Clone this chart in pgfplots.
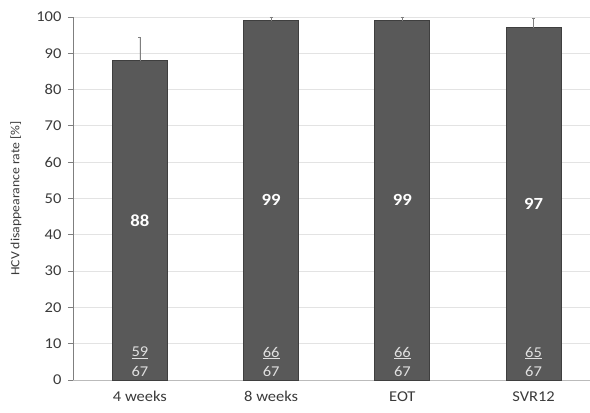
\documentclass[border=0pt]{standalone}
\usepackage{fontspec}
\setmainfont{Carlito}[FakeStretch=1.1]
\usepackage{pgfplots}
\pgfplotsset{compat=1.18}
\definecolor{barfill}{HTML}{595959}
\definecolor{baredge}{HTML}{3F3F3F}
\definecolor{gridc}{HTML}{E3E3E3}
\definecolor{axisc}{HTML}{7F7F7F}
\definecolor{txt}{HTML}{3A3A3A}
\definecolor{frac}{HTML}{E0E0E0}
\begin{document}
\begin{tikzpicture}
\begin{axis}[
  scale only axis,
  width=517pt, height=363pt,
  xmin=-0.51, xmax=3.43,
  ymin=0, ymax=100,
  ytick={0,10,...,100},
  xtick={0,1,2,3},
  xticklabels={4 weeks,8 weeks,EOT,SVR12},
  /pgf/number format/assume math mode=true,
  yticklabel style={font=\fontsize{15}{17}\selectfont, text=txt, xshift=-3pt},
  xticklabel style={font=\fontsize{15}{17}\selectfont, text=txt, yshift=-3pt},
  ymajorgrids,
  major grid style={gridc, line width=0.8pt},
  axis x line*=bottom,
  axis y line*=left,
  x axis line style={draw=gridc!60!axisc, line width=0.8pt, -},
  y axis line style={draw=axisc, line width=0.8pt, -},
  xtick style={draw=none},
  ytick style={draw=axisc, line width=0.8pt},
  tick align=outside,
  major tick length=5pt,
  ylabel={HCV disappearance rate [\%]},
  ylabel style={font=\fontsize{12.5}{14}\selectfont, text=txt},
  ylabel shift=8pt,
  clip=false,
]
% Bars with upper error bars and centred value labels
\addplot[
  ybar, bar width=55pt, bar shift=0pt,
  fill=barfill, draw=baredge, line width=0.8pt,
  error bars/.cd, y dir=plus, y explicit,
  error bar style={draw=axisc, line width=0.8pt},
  error mark options={rotate=90, mark size=1.5pt, draw=axisc},
] coordinates {
  (0,88) +- (0,6.5)
  (1,99) +- (0,1.0)
  (2,99) +- (0,1.0)
  (3,97) +- (0,2.6)
};
\addplot[
  ybar, bar width=55pt, bar shift=0pt, draw=none, fill=none,
  visualization depends on=y \as \rawy,
  nodes near coords,
  every node near coord/.append style={
    anchor=center, text=white,
    font=\fontsize{17}{19}\selectfont\bfseries,
    shift={(axis direction cs:0,-\rawy/2)}},
] coordinates {(0,88) (1,99) (2,99) (3,97)};
% Responder fractions at the foot of each bar
\addplot[
  only marks, mark=none,
  point meta=explicit symbolic,
  nodes near coords={\underline{\pgfplotspointmeta}},
  every node near coord/.append style={anchor=center, text=frac,
    font=\fontsize{15}{17}\selectfont},
] coordinates {(0,7.4) [59] (1,7.4) [66] (2,7.4) [66] (3,7.4) [65]};
\addplot[
  only marks, mark=none,
  point meta=explicit symbolic,
  nodes near coords,
  every node near coord/.append style={anchor=center, text=frac,
    font=\fontsize{15}{17}\selectfont},
] coordinates {(0,2.3) [67] (1,2.3) [67] (2,2.3) [67] (3,2.3) [67]};
\end{axis}
% Fix the page to the chart's frame: room for labels left and below
\pgfresetboundingbox
\path ([xshift=-73pt,yshift=-32pt]current axis.south west)
      rectangle ([yshift=17pt]current axis.north east);
\end{tikzpicture}
\end{document}
